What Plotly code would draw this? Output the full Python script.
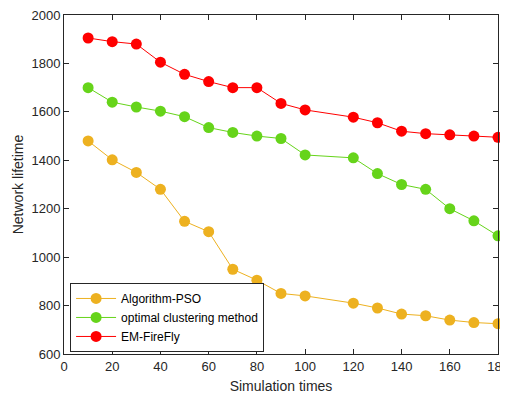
import plotly.graph_objects as go

x = [10, 20, 30, 40, 50, 60, 70, 80, 90, 100, 120, 130, 140, 150, 160, 170, 180]
pso = [1480, 1402, 1350, 1280, 1148, 1105, 950, 905, 850, 840, 810, 790, 765, 758, 740, 730, 725]
ocm = [1700, 1640, 1620, 1603, 1580, 1535, 1515, 1500, 1490, 1422, 1410, 1345, 1300, 1280, 1200, 1150, 1088]
emff = [1905, 1890, 1880, 1805, 1755, 1725, 1700, 1700, 1635, 1608, 1578, 1555, 1520, 1510, 1505, 1500, 1495]

names = ["Algorithm-PSO", "optimal clustering method", "EM-FireFly"]
colors = ["#EDB120", "#66D41A", "#FF0000"]

fig = go.Figure()
for name, ys, c in zip(names, [pso, ocm, emff], colors):
    fig.add_trace(go.Scatter(x=x, y=ys, name=name, mode="lines+markers",
                             line=dict(color=c, width=1),
                             marker=dict(color=c, size=11, line=dict(width=0)),
                             cliponaxis=False))

font = "Liberation Sans, Arial, Helvetica, sans-serif"
axis_common = dict(showline=True, linecolor="#262626", linewidth=1, mirror="ticks",
                   ticks="inside", ticklen=5, tickcolor="#262626", showgrid=False,
                   zeroline=False, automargin=False, ticklabeloverflow="allow",
                   tickfont=dict(size=13, color="#262626", family=font))
fig.update_xaxes(range=[0, 180], dtick=20, tick0=0,
                 title=dict(text="Simulation times", font=dict(size=14, color="#262626", family=font), standoff=8),
                 **axis_common)
fig.update_yaxes(range=[600, 2000], dtick=200, tick0=600,
                 title=dict(text="Network lifetime", font=dict(size=14, color="#262626", family=font), standoff=4),
                 **axis_common)
# page body has an 8px default margin, so the figure is sized to fill the rest of the window
fig.update_layout(width=500, height=392, margin=dict(l=56, r=10, t=7, b=46),
                  paper_bgcolor="white", plot_bgcolor="white",
                  font=dict(family=font, color="#262626"),
                  legend=dict(x=0.014, y=0.006, xanchor="left", yanchor="bottom",
                              bordercolor="#262626", borderwidth=1, bgcolor="white",
                              font=dict(size=12, color="#000000", family=font),
                              itemwidth=40, tracegroupgap=0))
fig.write_html("out.html")
